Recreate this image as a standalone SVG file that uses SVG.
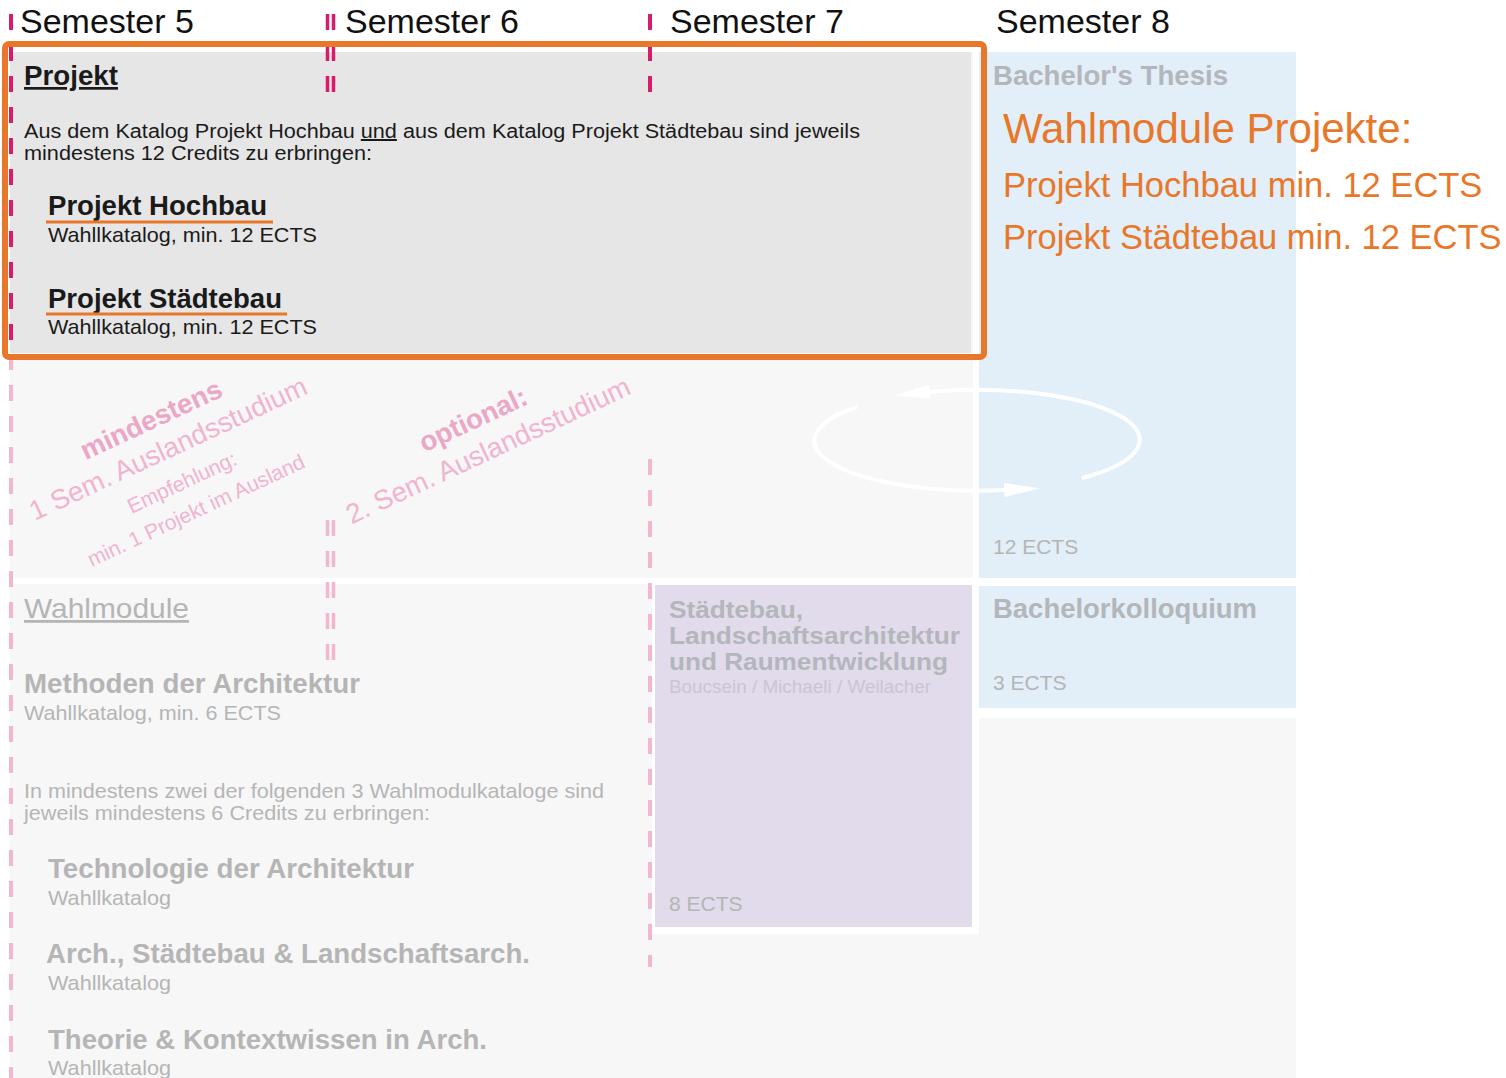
<svg xmlns="http://www.w3.org/2000/svg" width="1506" height="1078" viewBox="0 0 1506 1078">
<defs>
<style>
text{font-family:"Liberation Sans",Arial,sans-serif;}
.hdr{font-size:34px;fill:#111;}
.blk{fill:#1a1a1a;}
.b{font-weight:bold;}
.g{fill:#b5b5b5;}
.gb{fill:#b3b6bb;}
.pk{fill:#f1b3cf;}
.pkb{fill:#eca6c6;font-weight:bold;}
.or{fill:#e8772a;}
.dd{stroke:#d81b6b;stroke-width:4;stroke-dasharray:16 15;fill:none;}
.dl{stroke:#f2b6d0;stroke-width:4;stroke-dasharray:16 15;fill:none;}
.dd2{stroke:#d81b6b;stroke-width:3.5;stroke-dasharray:16 15;fill:none;}
.dl2{stroke:#f2b6d0;stroke-width:3.5;stroke-dasharray:16 15;fill:none;}
.loop{stroke:#ffffff;stroke-width:4;fill:none;}
</style>
<marker id="ah" viewBox="0 0 36 14" refX="1" refY="7" markerWidth="9" markerHeight="3.5" markerUnits="strokeWidth" orient="auto">
<path d="M0,0 L36,7 L0,14 z" fill="#ffffff"/>
</marker>
</defs>
<rect x="0" y="0" width="1506" height="1078" fill="#ffffff"/>

<g id="background">
<rect x="10" y="52" width="963" height="526" fill="#f7f7f7"/>
<rect x="10" y="584" width="1286" height="494" fill="#f7f7f7"/>
<rect x="973" y="578" width="323" height="8" fill="#ffffff"/>
<rect x="979" y="708" width="317" height="10" fill="#ffffff"/>
</g>

<g id="headers">
<text class="hdr" x="20" y="33">Semester 5</text>
<text class="hdr" x="345" y="33">Semester 6</text>
<text class="hdr" x="670" y="33">Semester 7</text>
<text class="hdr" x="996" y="33">Semester 8</text>
</g>

<g id="projekt">
<rect x="10" y="52" width="961" height="301" fill="#e6e6e6"/>
<text class="blk b" x="24" y="85" font-size="27" text-decoration="underline" textLength="94" lengthAdjust="spacingAndGlyphs">Projekt</text>
<text class="blk" x="24" y="138" font-size="20" textLength="836" lengthAdjust="spacingAndGlyphs">Aus dem Katalog Projekt Hochbau <tspan text-decoration="underline">und</tspan> aus dem Katalog Projekt Städtebau sind jeweils</text>
<text class="blk" x="24" y="160" font-size="20" textLength="348" lengthAdjust="spacingAndGlyphs">mindestens 12 Credits zu erbringen:</text>
<text class="blk b" x="48" y="215" font-size="27" textLength="219" lengthAdjust="spacingAndGlyphs">Projekt Hochbau</text>
<line x1="46" y1="222" x2="273" y2="222" stroke="#e8772a" stroke-width="3"/>
<text class="blk" x="48" y="242" font-size="21" textLength="269" lengthAdjust="spacingAndGlyphs">Wahllkatalog, min. 12 ECTS</text>
<text class="blk b" x="48" y="308" font-size="27" textLength="234" lengthAdjust="spacingAndGlyphs">Projekt Städtebau</text>
<line x1="46" y1="314" x2="287" y2="314" stroke="#e8772a" stroke-width="3"/>
<text class="blk" x="48" y="334" font-size="21" textLength="269" lengthAdjust="spacingAndGlyphs">Wahllkatalog, min. 12 ECTS</text>
</g>

<g id="ausland">
<text class="pkb" font-size="27.5" text-anchor="middle" transform="translate(155,428) rotate(-25)">mindestens</text>
<text class="pk" font-size="27.5" text-anchor="middle" transform="translate(172,457) rotate(-25)">1 Sem. Auslandsstudium</text>
<text class="pk" font-size="21" text-anchor="middle" transform="translate(185,489) rotate(-25)">Empfehlung:</text>
<text class="pk" font-size="21" text-anchor="middle" transform="translate(199,517) rotate(-25)">min. 1 Projekt im Ausland</text>
<text class="pkb" font-size="27.5" text-anchor="middle" transform="translate(477,428) rotate(-25)">optional:</text>
<text class="pk" font-size="27.5" text-anchor="middle" transform="translate(492,459) rotate(-25)">2. Sem. Auslandsstudium</text>
</g>

<g id="thesis">
<rect x="979" y="52" width="317" height="526" fill="#e2eef8"/>
<text class="gb b" x="993" y="85" font-size="27" textLength="235" lengthAdjust="spacingAndGlyphs">Bachelor's Thesis</text>
<text class="g" x="993" y="554" font-size="21">12 ECTS</text>
</g>

<g id="kolloquium">
<rect x="979" y="586" width="317" height="122" fill="#e2eef8"/>
<text class="gb b" x="993" y="618" font-size="27" textLength="264" lengthAdjust="spacingAndGlyphs">Bachelorkolloquium</text>
<text class="g" x="993" y="690" font-size="21">3 ECTS</text>
</g>

<g id="staedtebau">
<rect x="652" y="581" width="327" height="353" fill="#ffffff"/>
<rect x="655" y="585" width="317" height="342" fill="#e1dbeb"/>
<text class="gb b" x="669" y="618" font-size="24" textLength="134" lengthAdjust="spacingAndGlyphs">Städtebau,</text>
<text class="gb b" x="669" y="644" font-size="24" textLength="291" lengthAdjust="spacingAndGlyphs">Landschaftsarchitektur</text>
<text class="gb b" x="669" y="670" font-size="24" textLength="279" lengthAdjust="spacingAndGlyphs">und Raumentwicklung</text>
<text x="669" y="693" font-size="18" fill="#cbc5d2" textLength="262" lengthAdjust="spacingAndGlyphs">Boucsein  / Michaeli / Weilacher</text>
<text class="g" x="669" y="911" font-size="21">8 ECTS</text>
</g>

<g id="wahlmodule">
<text class="g" x="24" y="618" font-size="28" text-decoration="underline" textLength="165" lengthAdjust="spacingAndGlyphs">Wahlmodule</text>
<text class="g b" x="24" y="693" font-size="27" textLength="336" lengthAdjust="spacingAndGlyphs">Methoden der Architektur</text>
<text class="g" x="24" y="720" font-size="21" textLength="257" lengthAdjust="spacingAndGlyphs">Wahllkatalog, min. 6 ECTS</text>
<text class="g" x="24" y="798" font-size="21" textLength="580" lengthAdjust="spacingAndGlyphs">In mindestens zwei der folgenden 3 Wahlmodulkataloge sind</text>
<text class="g" x="24" y="820" font-size="21" textLength="406" lengthAdjust="spacingAndGlyphs">jeweils mindestens 6 Credits zu erbringen:</text>
<text class="g b" x="48" y="878" font-size="27" textLength="366" lengthAdjust="spacingAndGlyphs">Technologie der Architektur</text>
<text class="g" x="48" y="905" font-size="21" textLength="123" lengthAdjust="spacingAndGlyphs">Wahllkatalog</text>
<text class="g b" x="46" y="963" font-size="27" textLength="484" lengthAdjust="spacingAndGlyphs">Arch., Städtebau &amp; Landschaftsarch.</text>
<text class="g" x="48" y="990" font-size="21" textLength="123" lengthAdjust="spacingAndGlyphs">Wahllkatalog</text>
<text class="g b" x="48" y="1049" font-size="27" textLength="439" lengthAdjust="spacingAndGlyphs">Theorie &amp; Kontextwissen in Arch.</text>
<text class="g" x="48" y="1075" font-size="21" textLength="123" lengthAdjust="spacingAndGlyphs">Wahllkatalog</text>
</g>

<g id="semester-lines">
<line class="dd" x1="11" y1="14" x2="11" y2="355"/>
<line class="dl" x1="11" y1="355" x2="11" y2="1078" stroke-dashoffset="1"/>
<line class="dd2" x1="327.5" y1="14" x2="327.5" y2="94"/>
<line class="dd2" x1="333.5" y1="14" x2="333.5" y2="94"/>
<line class="dl2" x1="327.5" y1="520" x2="327.5" y2="661"/>
<line class="dl2" x1="333.5" y1="520" x2="333.5" y2="661"/>
<line class="dd" x1="650" y1="14" x2="650" y2="94"/>
<line class="dl" x1="650" y1="459" x2="650" y2="967"/>
</g>

<g id="connectors">
<path class="loop" d="M 857 407 A 163 50 0 0 0 1005 490" marker-end="url(#ah)"/>
<path class="loop" d="M 1082 478 A 163 50 0 0 0 929 392" marker-end="url(#ah)"/>
</g>

<g id="highlight">
<rect x="5" y="44" width="979" height="313" rx="4" fill="none" stroke="#e8772a" stroke-width="6"/>
<text class="or" x="1003" y="143" font-size="42">Wahlmodule Projekte:</text>
<text class="or" x="1003" y="197" font-size="34.5">Projekt Hochbau min. 12 ECTS</text>
<text class="or" x="1003" y="249" font-size="34.5">Projekt Städtebau min. 12 ECTS</text>
</g>
</svg>
